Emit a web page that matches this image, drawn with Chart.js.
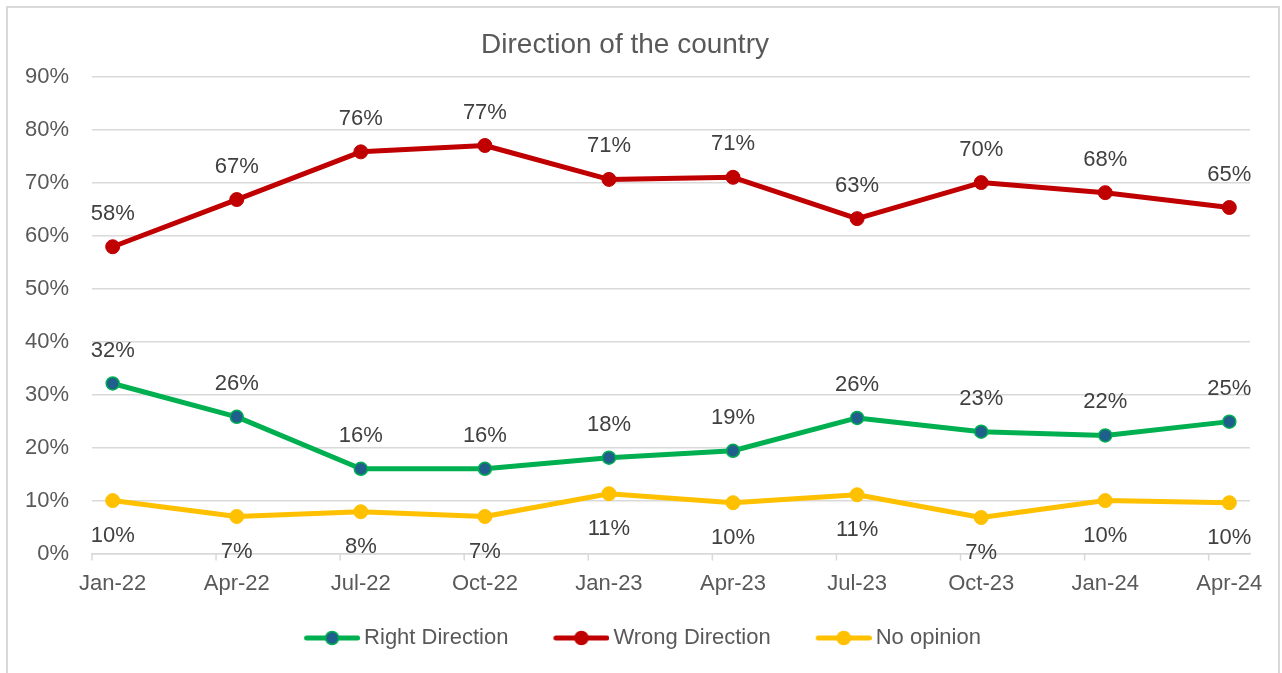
<!DOCTYPE html>
<html>
<head>
<meta charset="utf-8">
<script src="https://cdn.jsdelivr.net/npm/chart.js@4.4.1/dist/chart.umd.min.js"></script>
<style>
  html, body { margin: 0; padding: 0; background: #ffffff; overflow: hidden; }
  #frame { position: absolute; left: 6px; top: 6px; width: 1270px; height: 720px; border: 2px solid #d9d9d9; }
  #c { position: absolute; left: 0; top: 0; }
</style>
</head>
<body>
<div id="frame"></div>
<canvas id="c" width="1282" height="673"></canvas>
<script>
// ---- data ----
const categories = ['Jan-22','Apr-22','Jul-22','Oct-22','Jan-23','Apr-23','Jul-23','Oct-23','Jan-24','Apr-24'];
const MONTH_STEP = 3; // quarterly observations on a monthly date axis
const rightDirection = [32.1, 25.8, 16.0, 16.0, 18.1, 19.4, 25.6, 23.0, 22.3, 24.9];
const wrongDirection = [57.9, 66.8, 75.8, 77.0, 70.6, 71.0, 63.2, 70.0, 68.1, 65.3];
const noOpinion      = [10.0, 7.0, 7.9, 7.0, 11.3, 9.6, 11.1, 6.8, 10.0, 9.6];
const yTicks = [0, 10, 20, 30, 40, 50, 60, 70, 80, 90];
const seriesNames = ['Right Direction', 'Wrong Direction', 'No opinion'];

const monthIdx = categories.map((_, i) => i * MONTH_STEP);
const toPts = arr => arr.map((v, i) => ({ x: monthIdx[i], y: v }));

const FONT = '"Liberation Sans", Arial, sans-serif';
const GRID = '#d9d9d9';

function legendIcon(lineColor, fill, border) {
  const cv = document.createElement('canvas');
  cv.width = 98; cv.height = 16;
  const g = cv.getContext('2d');
  g.strokeStyle = lineColor; g.lineWidth = 5; g.lineCap = 'round';
  g.beginPath(); g.moveTo(44.5, 8); g.lineTo(95.5, 8); g.stroke();
  g.beginPath(); g.arc(70, 8, 6.5, 0, Math.PI * 2);
  g.fillStyle = fill; g.fill();
  g.lineWidth = 1.5; g.strokeStyle = border; g.stroke();
  return cv;
}

const dataLabels = {
  id: 'dataLabels',
  afterDatasetsDraw(chart) {
    const ctx = chart.ctx;
    ctx.save();
    ctx.font = '22px ' + FONT;
    ctx.fillStyle = '#404040';
    ctx.textAlign = 'center';
    ctx.textBaseline = 'middle';
    chart.data.datasets.forEach((ds, di) => {
      const meta = chart.getDatasetMeta(di);
      meta.data.forEach((pt, i) => {
        const v = ds.data[i].y;
        const dy = ds.labelBelow ? 35 : -33;
        ctx.fillText(Math.round(v) + '%', pt.x, pt.y + dy);
      });
    });
    ctx.restore();
  }
};

const tickMarks = {
  id: 'tickMarks',
  afterDraw(chart) {
    const xs = chart.scales.x;
    const ctx = chart.ctx;
    const b = chart.chartArea.bottom;
    ctx.save();
    ctx.strokeStyle = GRID; ctx.lineWidth = 1.5;
    monthIdx.forEach(m => {
      const px = xs.getPixelForValue(m - 0.5);
      ctx.beginPath(); ctx.moveTo(px, b); ctx.lineTo(px, b + 7); ctx.stroke();
    });
    ctx.restore();
  }
};

new Chart(document.getElementById('c'), {
  type: 'line',
  data: {
    datasets: [
      { label: seriesNames[0], data: toPts(rightDirection), borderColor: '#00b050', borderWidth: 5,
        pointBackgroundColor: '#1f5f8b', pointBorderColor: '#00b050', pointBorderWidth: 1.5, pointRadius: 6.5,
        icon: legendIcon('#00b050', '#1f5f8b', '#00b050') },
      { label: seriesNames[1], data: toPts(wrongDirection), borderColor: '#c00000', borderWidth: 5,
        pointBackgroundColor: '#c00000', pointBorderColor: '#c00000', pointBorderWidth: 1, pointRadius: 7,
        icon: legendIcon('#c00000', '#c00000', '#c00000') },
      { label: seriesNames[2], data: toPts(noOpinion), borderColor: '#ffc000', borderWidth: 5,
        pointBackgroundColor: '#ffc000', pointBorderColor: '#ffc000', pointBorderWidth: 1, pointRadius: 7,
        labelBelow: true, icon: legendIcon('#ffc000', '#ffc000', '#ffc000') }
    ]
  },
  options: {
    responsive: false,
    animation: false,
    events: [],
    layout: { padding: { left: 0, right: 32, top: 0, bottom: 14 } },
    elements: { line: { tension: 0, borderJoinStyle: 'round', borderCapStyle: 'round' } },
    scales: {
      x: {
        type: 'linear', min: -0.5, max: 27.5,
        afterBuildTicks: s => { s.ticks = monthIdx.map(v => ({ value: v })); },
        afterFit: s => { s.height += 3; },
        grid: { display: false, drawTicks: false },
        border: { display: true, color: GRID, width: 1.5 },
        ticks: { autoSkip: false, maxRotation: 0, padding: 17, color: '#595959',
                 font: { family: FONT, size: 22 },
                 callback: (v, i) => categories[i] }
      },
      y: {
        min: 0, max: 90,
        afterBuildTicks: s => { s.ticks = yTicks.map(v => ({ value: v })); },
        afterFit: s => { s.width = 92; },
        grid: { color: GRID, lineWidth: 1.5, drawTicks: false },
        border: { display: false },
        ticks: { padding: 23, color: '#595959', font: { family: FONT, size: 22 },
                 callback: v => v + '%' }
      }
    },
    plugins: {
      title: { display: true, text: 'Direction of the country', color: '#595959',
               font: { family: FONT, size: 28, weight: 'normal' }, padding: { top: 28, bottom: 15 } },
      legend: {
        display: true, position: 'bottom',
        labels: {
          usePointStyle: true, pointStyleWidth: 84, padding: 10, color: '#595959',
          font: { family: FONT, size: 22 },
          generateLabels: chart => chart.data.datasets.map((ds, i) => ({
            text: ds.label, pointStyle: ds.icon, fillStyle: ds.borderColor, strokeStyle: ds.borderColor,
            lineWidth: 0, fontColor: '#595959', datasetIndex: i, hidden: false
          }))
        }
      },
      tooltip: { enabled: false }
    }
  },
  plugins: [dataLabels, tickMarks]
});
</script>
</body>
</html>
